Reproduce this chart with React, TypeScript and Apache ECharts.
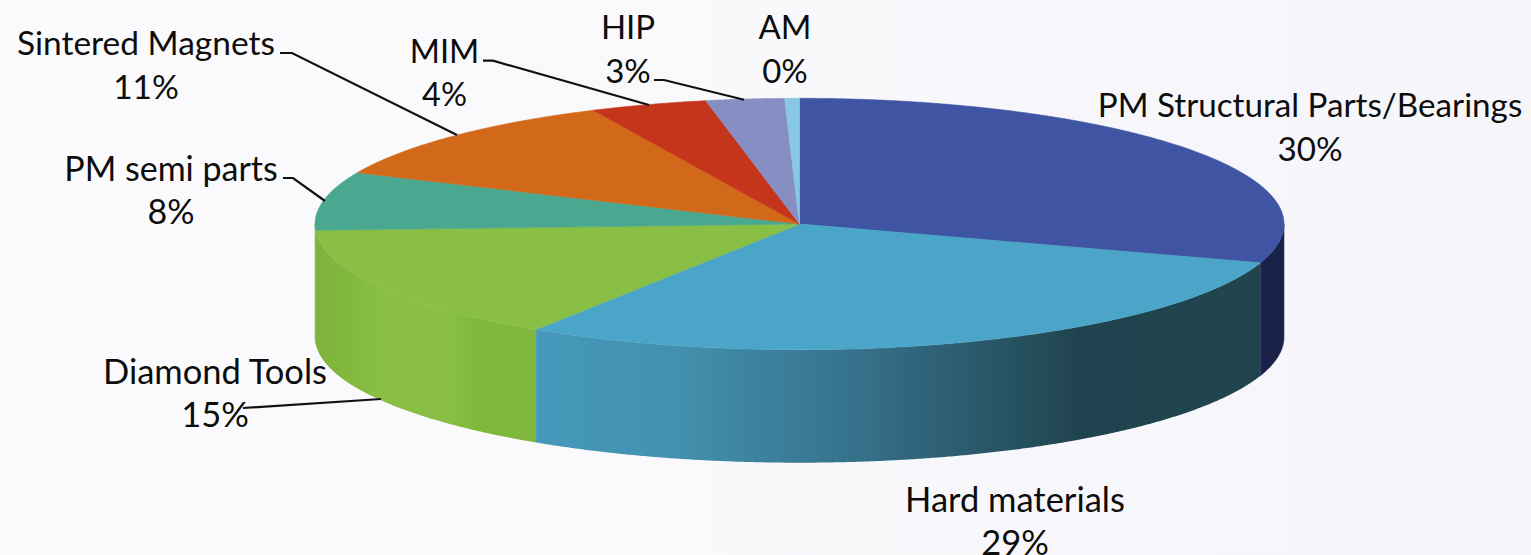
import React, { useEffect, useRef } from "react";
import * as echarts from "echarts";

const categories = [
  "PM Structural Parts/Bearings",
  "Hard materials",
  "Diamond Tools",
  "PM semi parts",
  "Sintered Magnets",
  "MIM",
  "HIP",
  "AM",
];
const shares = [30, 29.15, 15.05, 7.5, 11.3, 3.9, 2.61, 0.49];
const topColors = ["#3f54a3", "#4ba5c8", "#88bf44", "#4ba890", "#d2681a", "#c5351c", "#878ec3", "#88c8e4"];

const wallFills: (string | [number, string][])[] = [
  "#1a2249",
  [[0, "#4699bb"], [0.2, "#4290ad"], [0.46, "#356f88"], [0.75, "#20444f"], [1, "#20454f"]],
  [[0, "#7eb43c"], [0.1, "#80b63d"], [0.3, "#88bf44"], [0.6, "#88bf44"], [0.72, "#80b73d"], [1, "#80b73d"]],
  "#7eb43c",
  "#d2681a",
  "#c5351c",
  "#878ec3",
  "#88c8e4",
];

// label centre x, block centre y, font size
const labelPos: [number, number][] = [
  [1310, 126],
  [1015, 520],
  [215, 392],
  [171, 189],
  [146, 64],
  [444.5, 72],
  [628, 48],
  [785, 48],
];
const labelSizes = [33.2, 34.5, 34.5, 34, 33.5, 32.5, 33, 33];
const leaders: ([number, number][] | null)[] = [
  null,
  null,
  [[243, 408], [381, 399]],
  [[283, 178], [293, 178], [325, 201]],
  [[280, 53], [292, 53], [457, 135]],
  [[483, 60.7], [493, 60.7], [649, 105]],
  [[654, 80], [664, 80], [744, 99.7]],
  null,
];

const CX = 799.5;
const CY = 224;
const RX = 484.5;
const RY = 125.7;
const DEPTH = 113;
const FONT = "Lato";

const total = shares.reduce((a, b) => a + b, 0);
const starts: number[] = [];
shares.reduce((acc, v, i) => {
  starts[i] = acc;
  return acc + v;
}, 0);
const toAngle = (v: number) => (v / total) * Math.PI * 2;
const pt = (a: number, dy = 0): [number, number] => [CX + RX * Math.sin(a), CY - RY * Math.cos(a) + dy];

function arc(a0: number, a1: number, dy = 0) {
  const n = Math.max(2, Math.ceil(Math.abs(a1 - a0) / 0.005));
  const out: [number, number][] = [];
  for (let i = 0; i <= n; i++) out.push(pt(a0 + ((a1 - a0) * i) / n, dy));
  return out;
}

function renderTop(params: any) {
  const i = params.dataIndex;
  const a0 = toAngle(starts[i]);
  const a1 = toAngle(starts[i] + shares[i]);
  return {
    type: "polygon",
    shape: { points: [[CX, CY], ...arc(a0, a1)] },
    style: { fill: topColors[i], stroke: topColors[i], lineWidth: 0.6 },
  };
}

function renderWall(params: any) {
  const i = params.dataIndex;
  const a0 = Math.max(toAngle(starts[i]), Math.PI / 2);
  const a1 = Math.min(toAngle(starts[i] + shares[i]), (Math.PI * 3) / 2);
  if (a1 <= a0) return { type: "group", children: [] };
  const f = wallFills[i];
  const fill =
    typeof f === "string"
      ? f
      : new echarts.graphic.LinearGradient(0, 0, 1, 0, f.map(([offset, color]) => ({ offset, color })));
  return {
    type: "polygon",
    shape: { points: [...arc(a0, a1), ...arc(a1, a0, DEPTH)] },
    style: { fill, stroke: typeof f === "string" ? f : "none", lineWidth: typeof f === "string" ? 0.5 : 0 },
  };
}

export default function App() {
  const ref = useRef<HTMLDivElement>(null);
  useEffect(() => {
    const chart = echarts.init(ref.current!, undefined, { renderer: "svg" });
    const data = shares.map((v, i) => ({ name: categories[i], value: v }));
    const labels = categories.map((name, i) => ({
      type: "text",
      x: labelPos[i][0],
      y: labelPos[i][1],
      z: 20,
      style: {
        text: `${name}\n${Math.round(shares[i])}%`,
        fontFamily: FONT,
        fontSize: labelSizes[i],
        lineHeight: 43.5,
        fill: "#0d0d0d",
        align: "center",
        verticalAlign: "middle",
      },
    }));
    const lines = leaders
      .filter((l) => l)
      .map((l) => ({
        type: "polyline",
        z: 21,
        shape: { points: l },
        style: { stroke: "#111111", lineWidth: 2.2, fill: "none" },
      }));
    chart.setOption({
      animation: false,
      backgroundColor: "transparent",
      series: [
        { type: "custom", coordinateSystem: "none", z: 2, silent: true, data, renderItem: renderWall },
        { type: "custom", coordinateSystem: "none", z: 3, silent: true, data, renderItem: renderTop },
      ],
      graphic: { elements: [...labels, ...lines] },
    });
    return () => chart.dispose();
  }, []);
  return (
    <div
      ref={ref}
      style={{
        position: "fixed",
        left: 0,
        top: 0,
        width: 1531,
        height: 555,
        background: "linear-gradient(90deg,#fbfbfd 0%,#f9f9fc 50%,#f5f5fa 100%)",
      }}
    />
  );
}
